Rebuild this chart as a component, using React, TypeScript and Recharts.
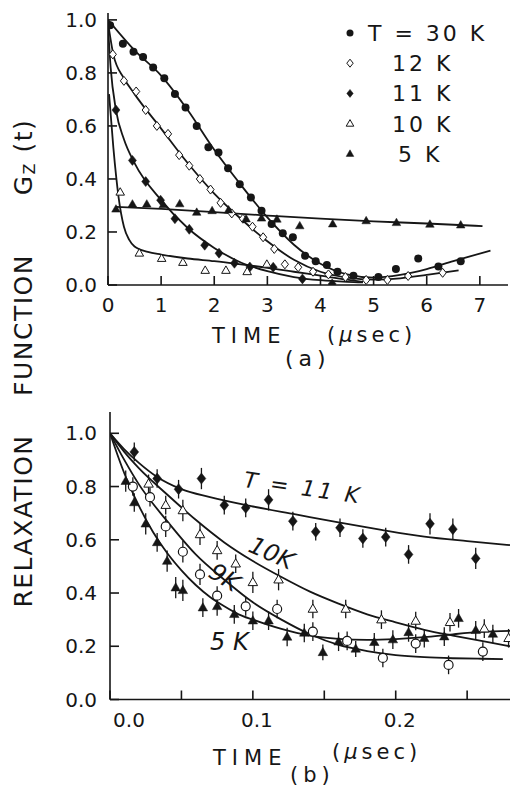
import React from 'react'
import { ComposedChart, ErrorBar, Legend, Line, Scatter, XAxis, YAxis } from 'recharts'

const INK = '#161616'
const FONT = '"DejaVu Sans", sans-serif'

// ---------- panel (a): G_z(t) vs time, 0..7 usec ----------
const timeTicksA = [0, 1, 2, 3, 4, 5, 6, 7]
const gTicks = [0, 0.2, 0.4, 0.6, 0.8, 1.0]

const pts30K = [
  [0.04, 0.98], [0.28, 0.91], [0.48, 0.88], [0.66, 0.86], [0.85, 0.82], [1.06, 0.78],
  [1.26, 0.72], [1.46, 0.67], [1.67, 0.6], [1.89, 0.52], [2.08, 0.5], [2.26, 0.44],
  [2.48, 0.38], [2.69, 0.33], [2.89, 0.28], [3.08, 0.23], [3.29, 0.195], [3.48, 0.18],
  [3.71, 0.11], [3.91, 0.09], [4.12, 0.075], [4.32, 0.05], [4.62, 0.035], [5.09, 0.03],
  [5.42, 0.06], [5.84, 0.1], [6.22, 0.07], [6.64, 0.09],
]
const pts12K = [
  [0.09, 0.87], [0.3, 0.77], [0.53, 0.73], [0.71, 0.66], [0.92, 0.6], [1.13, 0.57],
  [1.34, 0.49], [1.53, 0.45], [1.73, 0.4], [1.93, 0.36], [2.12, 0.31], [2.33, 0.27],
  [2.54, 0.25], [2.72, 0.22], [2.92, 0.18], [3.13, 0.136], [3.33, 0.078], [3.58, 0.067],
  [3.86, 0.05], [4.15, 0.04], [4.47, 0.03], [4.86, 0.019], [5.26, 0.019], [5.65, 0.034],
  [6.3, 0.046],
]
const pts11K = [
  [0.15, 0.66], [0.46, 0.47], [0.71, 0.39], [0.99, 0.32], [1.26, 0.25], [1.53, 0.21],
  [1.82, 0.15], [2.09, 0.12], [2.38, 0.082], [2.67, 0.068], [3.11, 0.067], [3.66, 0.023],
  [4.22, 0.004],
]
const pts10K = [
  [0.23, 0.35], [0.59, 0.12], [1.01, 0.1], [1.41, 0.085], [1.83, 0.055], [2.22, 0.055],
  [2.62, 0.05], [2.99, 0.078],
]
const pts5K = [
  [0.15, 0.286], [0.46, 0.305], [0.73, 0.305], [1.04, 0.302], [1.35, 0.306], [1.67, 0.274],
  [1.96, 0.28], [2.27, 0.283], [2.6, 0.249], [2.89, 0.252], [3.18, 0.248], [3.61, 0.223],
  [4.23, 0.23], [4.86, 0.242], [5.43, 0.235], [6.06, 0.229], [6.64, 0.226],
]

const fit30K = [
  [0, 1.0], [0.5, 0.885], [1.0, 0.79], [1.5, 0.66], [2.0, 0.51], [2.5, 0.378], [3.0, 0.255],
  [3.5, 0.152], [4.0, 0.08], [4.5, 0.04], [5.0, 0.028], [5.5, 0.038], [6.0, 0.06],
  [6.5, 0.09], [7.2, 0.13],
]
const fit12K = [
  [0, 0.99], [0.1, 0.87], [0.3, 0.78], [0.5, 0.72], [1.0, 0.59], [1.5, 0.46], [2.0, 0.345],
  [2.5, 0.25], [3.0, 0.165], [3.5, 0.095], [4.0, 0.05], [4.5, 0.028], [5.0, 0.02],
  [5.5, 0.025], [6.0, 0.038], [6.6, 0.055],
]
const fit11K = [
  [0, 0.98], [0.05, 0.82], [0.15, 0.66], [0.3, 0.55], [0.5, 0.46], [1.0, 0.32], [1.5, 0.215],
  [2.0, 0.14], [2.5, 0.085], [3.0, 0.052], [3.5, 0.03], [4.0, 0.018], [4.5, 0.012], [4.8, 0.01],
]
const fit10K = [
  [0.02, 0.72], [0.1, 0.52], [0.2, 0.33], [0.3, 0.22], [0.4, 0.17], [0.5, 0.145],
  [0.75, 0.125], [1.0, 0.115], [1.5, 0.1], [2.0, 0.09], [2.5, 0.078], [3.0, 0.065],
  [3.5, 0.05], [4.0, 0.035], [4.5, 0.02], [4.8, 0.012],
]
const fit5K = [
  [0.15, 0.295], [1, 0.287], [2, 0.275], [3, 0.262], [4, 0.25], [5, 0.24], [6, 0.232], [7.05, 0.222],
]

// ---------- panel (b): short times, 0..0.28 usec, with error bars ----------
const timeTicksB = [0, 0.05, 0.1, 0.15, 0.2, 0.25]
const labelledTicksB = [0, 0.1, 0.2]

// [time, value, error]
const ptsB11K = [
  [0.017, 0.93, 0.035], [0.033, 0.83, 0.035], [0.048, 0.79, 0.035], [0.064, 0.83, 0.04],
  [0.08, 0.73, 0.035], [0.095, 0.72, 0.035], [0.111, 0.75, 0.04], [0.128, 0.67, 0.035],
  [0.144, 0.63, 0.033], [0.161, 0.645, 0.035], [0.177, 0.605, 0.035], [0.193, 0.61, 0.035],
  [0.209, 0.545, 0.035], [0.224, 0.66, 0.04], [0.24, 0.64, 0.04], [0.256, 0.53, 0.04],
]
const ptsB10K = [
  [0.027, 0.81, 0.035], [0.039, 0.73, 0.035], [0.051, 0.71, 0.04], [0.063, 0.62, 0.04],
  [0.075, 0.56, 0.035], [0.088, 0.51, 0.035], [0.1, 0.44, 0.04], [0.118, 0.45, 0.04],
  [0.142, 0.34, 0.035], [0.165, 0.34, 0.035], [0.19, 0.3, 0.035], [0.214, 0.295, 0.035],
  [0.238, 0.29, 0.035], [0.262, 0.266, 0.035], [0.279, 0.23, 0.035],
]
const ptsB9K = [
  [0.016, 0.8, 0.035], [0.028, 0.76, 0.035], [0.039, 0.65, 0.04], [0.051, 0.555, 0.04],
  [0.063, 0.47, 0.04], [0.075, 0.39, 0.035], [0.095, 0.35, 0.035], [0.117, 0.34, 0.035],
  [0.142, 0.255, 0.035], [0.166, 0.22, 0.035], [0.191, 0.156, 0.035], [0.214, 0.21, 0.035],
  [0.237, 0.13, 0.035], [0.261, 0.18, 0.035],
]
const ptsB5K = [
  [0.011, 0.82, 0.04], [0.017, 0.74, 0.035], [0.025, 0.66, 0.04], [0.033, 0.59, 0.035],
  [0.04, 0.52, 0.04], [0.046, 0.42, 0.04], [0.051, 0.41, 0.04], [0.065, 0.345, 0.035],
  [0.075, 0.35, 0.035], [0.087, 0.32, 0.035], [0.1, 0.296, 0.035], [0.111, 0.296, 0.035],
  [0.124, 0.235, 0.035], [0.136, 0.25, 0.035], [0.149, 0.177, 0.03], [0.16, 0.217, 0.035],
  [0.172, 0.19, 0.03], [0.185, 0.215, 0.035], [0.198, 0.225, 0.035], [0.209, 0.252, 0.035],
  [0.22, 0.23, 0.035], [0.234, 0.236, 0.035], [0.244, 0.305, 0.035], [0.256, 0.26, 0.035],
  [0.268, 0.246, 0.035],
]

const fitB11K = [
  [0, 1.0], [0.01, 0.94], [0.02, 0.89], [0.033, 0.836], [0.05, 0.79], [0.07, 0.76],
  [0.1, 0.725], [0.13, 0.695], [0.16, 0.665], [0.19, 0.637], [0.22, 0.612], [0.25, 0.595],
  [0.28, 0.58],
]
const fitB10K = [
  [0, 1.0], [0.01, 0.93], [0.02, 0.87], [0.04, 0.77], [0.06, 0.675], [0.08, 0.59],
  [0.1, 0.52], [0.12, 0.46], [0.14, 0.405], [0.16, 0.36], [0.18, 0.32], [0.2, 0.29],
  [0.22, 0.262], [0.24, 0.24], [0.26, 0.22], [0.28, 0.2],
]
const fitB9K = [
  [0, 1.0], [0.01, 0.9], [0.02, 0.81], [0.04, 0.67], [0.06, 0.545], [0.08, 0.45],
  [0.1, 0.365], [0.12, 0.3], [0.14, 0.245], [0.16, 0.205], [0.18, 0.182], [0.2, 0.167],
  [0.22, 0.159], [0.24, 0.155], [0.26, 0.153], [0.275, 0.152],
]
const fitB5K = [
  [0, 1.0], [0.01, 0.85], [0.02, 0.73], [0.03, 0.63], [0.04, 0.55], [0.05, 0.485],
  [0.06, 0.43], [0.07, 0.385], [0.08, 0.35], [0.09, 0.32], [0.1, 0.3], [0.12, 0.265],
  [0.14, 0.24], [0.16, 0.228], [0.18, 0.224], [0.2, 0.227], [0.22, 0.234], [0.24, 0.245],
  [0.26, 0.254], [0.28, 0.258],
]

const xy = (arr: number[][]) => arr.map(([x, y]) => ({ x, y }))
const xye = (arr: number[][]) => arr.map(([x, y, err]) => ({ x, y, err }))

const seriesA = [
  { name: 'T = 30 K', mark: 'dot', size: 4, pts: pts30K, fit: fit30K },
  { name: '12 K', mark: 'openDiamond', size: 4.5, pts: pts12K, fit: fit12K },
  { name: '11 K', mark: 'diamond', size: 5, pts: pts11K, fit: fit11K },
  { name: '10 K', mark: 'openTri', size: 4.5, pts: pts10K, fit: fit10K },
  { name: '5 K', mark: 'tri', size: 4.5, pts: pts5K, fit: fit5K },
]

const seriesB = [
  { name: '11 K', mark: 'diamond', size: 5.5, pts: ptsB11K, fit: fitB11K },
  { name: '10 K', mark: 'openTri', size: 5, pts: ptsB10K, fit: fitB10K },
  { name: '9 K', mark: 'ring', size: 4.5, pts: ptsB9K, fit: fitB9K },
  { name: '5 K', mark: 'tri', size: 5, pts: ptsB5K, fit: fitB5K },
]

function drawMark(kind: string, cx: number, cy: number, s: number) {
  if (cx == null || cy == null) return <g />
  switch (kind) {
    case 'dot':
      return <circle cx={cx} cy={cy} r={s} fill={INK} />
    case 'ring':
      return <circle cx={cx} cy={cy} r={s} fill="#fff" stroke={INK} strokeWidth={1.2} />
    case 'diamond':
    case 'openDiamond': {
      const open = kind === 'openDiamond'
      return (
        <polygon
          points={`${cx},${cy - s} ${cx + s * 0.8},${cy} ${cx},${cy + s} ${cx - s * 0.8},${cy}`}
          fill={open ? '#fff' : INK}
          stroke={INK}
          strokeWidth={open ? 1 : 0.5}
        />
      )
    }
    default: {
      const open = kind === 'openTri'
      return (
        <polygon
          points={`${cx},${cy - s} ${cx + s * 0.95},${cy + s * 0.65} ${cx - s * 0.95},${cy + s * 0.65}`}
          fill={open ? '#fff' : INK}
          stroke={INK}
          strokeWidth={open ? 1 : 0.5}
        />
      )
    }
  }
}

// legend text is indented like the original figure
const legendTextX: Record<string, number> = {
  'T = 30 K': 28,
  '12 K': 52,
  '11 K': 52,
  '10 K': 52,
  '5 K': 58,
}

function LegendA(props: any) {
  const order = seriesA.map((s) => s.name)
  const items = (props.payload || [])
    .filter((e: any) => legendTextX[e.value] !== undefined)
    .sort((a: any, b: any) => order.indexOf(a.value) - order.indexOf(b.value))
  return (
    <svg width={170} height={160} style={{ overflow: 'visible' }}>
      {items.map((e: any, i: number) => {
        const s = seriesA.find((d) => d.name === e.value)
        const cy = 15 + i * 30.2
        return (
          <g key={e.value}>
            {drawMark(s ? s.mark : 'dot', 10, cy, s && s.mark === 'dot' ? 3.5 : 4)}
            <text
              x={legendTextX[e.value]}
              y={cy + 8}
              fill={INK}
              fontSize={22}
              fontFamily={FONT}
              letterSpacing={3}
              style={{ whiteSpace: 'pre' }}
            >
              {e.value}
            </text>
          </g>
        )
      })}
    </svg>
  )
}

function TickB(props: any) {
  const { x, y, payload } = props
  const v = payload.value
  if (!labelledTicksB.some((t) => Math.abs(t - v) < 1e-9)) return <g />
  return (
    <text
      x={x + (v === 0 ? 19 : 4)}
      y={y}
      dy="0.71em"
      textAnchor="middle"
      fill={INK}
      fontSize={20}
      fontFamily={FONT}
    >
      {v.toFixed(1)}
    </text>
  )
}

const axisLine = { stroke: INK, strokeWidth: 1.6 }
const tickLine = { stroke: INK, strokeWidth: 1.6 }
const tickText = { fill: INK, fontSize: 20, fontFamily: FONT }

export default function App() {
  return (
    <div
      style={{
        position: 'absolute',
        left: 0,
        top: 0,
        width: 520,
        height: 789,
        background: '#fff',
        overflow: 'hidden',
      }}
    >
      <div style={{ position: 'absolute', left: 0, top: 0 }}>
        <ComposedChart width={520} height={320} margin={{ top: 13, right: 12, bottom: 0, left: 0 }}>
          <XAxis
            type="number"
            dataKey="x"
            domain={[0, 7.53]}
            ticks={timeTicksA}
            allowDataOverflow
            height={35}
            axisLine={axisLine}
            tickLine={tickLine}
            tickSize={-9}
            tickMargin={22}
            tick={tickText}
          />
          <YAxis
            type="number"
            dataKey="y"
            domain={[0, 1.026]}
            ticks={gTicks}
            allowDataOverflow
            width={108}
            axisLine={axisLine}
            tickLine={tickLine}
            tickSize={-9}
            tickMargin={20}
            tick={tickText}
            tickFormatter={(v: number) => v.toFixed(1)}
          />
          <Legend
            layout="vertical"
            align="center"
            verticalAlign="middle"
            content={LegendA}
            wrapperStyle={{ position: 'absolute', left: 340, top: 18, width: 170, height: 160 }}
          />
          {seriesA.map((s) => (
            <Line
              key={'fit-' + s.name}
              data={xy(s.fit)}
              dataKey="y"
              type="monotone"
              stroke={INK}
              strokeWidth={1.8}
              dot={false}
              legendType="none"
              isAnimationActive={false}
            />
          ))}
          {seriesA.map((s) => (
            <Scatter
              key={'pts-' + s.name}
              name={s.name}
              data={xy(s.pts)}
              dataKey="y"
              fill={INK}
              shape={(p: any) => drawMark(s.mark, p.cx, p.cy, s.size)}
              isAnimationActive={false}
            />
          ))}
        </ComposedChart>
      </div>

      <div style={{ position: 'absolute', left: 0, top: 380 }}>
        <ComposedChart width={520} height={355} margin={{ top: 32, right: 10, bottom: 0, left: 0 }}>
          <XAxis
            type="number"
            dataKey="x"
            domain={[0, 0.28]}
            ticks={timeTicksB}
            allowDataOverflow
            height={35.5}
            axisLine={axisLine}
            tickLine={tickLine}
            tickSize={-9}
            tickMargin={22}
            tick={TickB}
          />
          <YAxis
            type="number"
            dataKey="y"
            domain={[0, 1.08]}
            ticks={gTicks}
            allowDataOverflow
            width={110}
            axisLine={axisLine}
            tickLine={tickLine}
            tickSize={-9}
            tickMargin={22}
            tick={tickText}
            tickFormatter={(v: number) => v.toFixed(1)}
          />
          {seriesB.map((s) => (
            <Line
              key={'fitb-' + s.name}
              data={xy(s.fit)}
              dataKey="y"
              type="monotone"
              stroke={INK}
              strokeWidth={1.8}
              dot={false}
              legendType="none"
              isAnimationActive={false}
            />
          ))}
          {seriesB.map((s) => (
            <Scatter
              key={'ptsb-' + s.name}
              name={s.name}
              data={xye(s.pts)}
              dataKey="y"
              fill={INK}
              shape={(p: any) => drawMark(s.mark, p.cx, p.cy, s.size)}
              isAnimationActive={false}
            >
              <ErrorBar
                dataKey="err"
                direction="y"
                width={0}
                stroke={INK}
                strokeWidth={1.3}
                isAnimationActive={false}
              />
            </Scatter>
          ))}
        </ComposedChart>
      </div>

      <svg
        width={520}
        height={789}
        style={{ position: 'absolute', left: 0, top: 0, pointerEvents: 'none' }}
        fontFamily={FONT}
        fill={INK}
      >
        {/* shared y title, read bottom to top */}
        <g fontSize={25} letterSpacing={1.5}>
          <text transform="translate(32,521) rotate(-90)" textAnchor="middle">RELAXATION</text>
          <text transform="translate(32,325) rotate(-90)" textAnchor="middle">FUNCTION</text>
          <text transform="translate(32,157) rotate(-90)" textAnchor="middle">
            G<tspan fontSize={16} dy={3}>Z</tspan>
            <tspan dy={-3}> (t)</tspan>
          </text>
        </g>

        {/* panel (a) x title */}
        <text x={212} y={343} fontSize={21} letterSpacing={6}>TIME</text>
        <text x={327} y={342} fontSize={21} letterSpacing={4}>
          (<tspan fontStyle="italic">μ</tspan>sec)
        </text>
        <text x={285} y={366} fontSize={22} letterSpacing={5}>(a)</text>

        {/* panel (b) x title */}
        <text x={213} y={765} fontSize={21} letterSpacing={6}>TIME</text>
        <text x={332} y={759} fontSize={21} letterSpacing={4}>
          (<tspan fontStyle="italic">μ</tspan>sec)
        </text>
        <text x={290} y={782} fontSize={21} letterSpacing={5}>(b)</text>

        {/* curve labels in panel (b) */}
        <g fontStyle="italic">
          <text x={243} y={487} fontSize={22} letterSpacing={3} transform="rotate(8,243,487)" style={{ whiteSpace: 'pre' }}>
            T = 11 K
          </text>
          <text x={247} y={551} fontSize={24} transform="rotate(24,247,551)">10K</text>
          <text x={207} y={576} fontSize={24} transform="rotate(32,207,576)">9K</text>
          <text x={210} y={650} fontSize={24} style={{ whiteSpace: 'pre' }}>5 K</text>
        </g>
      </svg>
    </div>
  )
}
